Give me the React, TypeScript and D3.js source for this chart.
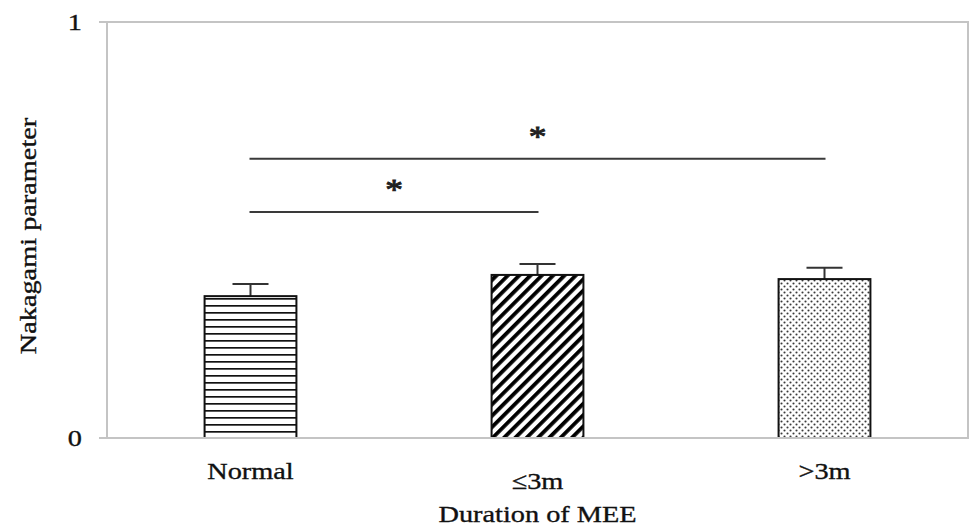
import React from "react";
import * as d3 from "d3";

const categories = ["Normal", "≤3m", ">3m"];
const means = [0.341, 0.392, 0.382];
const upperErrors = [0.029, 0.026, 0.027];
const yTicks = [0, 1];
const comparisons = [
  { from: "Normal", to: ">3m", level: 0.671, label: "*" },
  { from: "Normal", to: "≤3m", level: 0.543, label: "*" },
];
const xTitle = "Duration of MEE";
const yTitle = "Nakagami parameter";

const W = 970;
const H = 527;
const plot = { left: 107, right: 968, top: 22, bottom: 438 };
const FONT = "'Liberation Serif', 'Times New Roman', serif";
const STRETCH = 1.18;
const labelShift: Record<string, number> = { "≤3m": 10 };
const patterns = ["hstripe", "diag", "dots"];

export default function App() {
  const x = d3
    .scaleBand<string>()
    .domain(categories)
    .range([plot.left, plot.right])
    .paddingInner(0.68)
    .paddingOuter(0.34);
  const y = d3.scaleLinear().domain([0, 1]).range([plot.bottom, plot.top]);
  const cx = (c: string) => (x(c) as number) + x.bandwidth() / 2;
  const textStyle = {
    fontFamily: FONT,
    fontSize: 24,
    fill: "#111",
    stroke: "#111",
    strokeWidth: 0.35,
  } as React.CSSProperties;

  return (
    <svg
      width={W}
      height={H}
      style={{ position: "absolute", left: 0, top: 0, background: "#fff", fontFamily: FONT }}
    >
      <defs>
        <pattern id="hstripe" width="8" height="7" patternUnits="userSpaceOnUse" y={plot.bottom}>
          <rect width="8" height="7" fill="#fff" />
          <line x1="0" x2="8" y1="0.8" y2="0.8" stroke="#111" strokeWidth="1.8" />
        </pattern>
        <pattern
          id="diag"
          width="8"
          height="8"
          patternUnits="userSpaceOnUse"
          patternTransform="rotate(45)"
        >
          <rect width="8" height="8" fill="#fff" />
          <rect x="0" y="0" width="3.8" height="8" fill="#000" />
        </pattern>
        <pattern id="dots" width="6" height="6" patternUnits="userSpaceOnUse">
          <rect width="6" height="6" fill="#fff" />
          <circle cx="1.5" cy="1.5" r="1.05" fill="#3a3a3a" />
          <circle cx="4.5" cy="4.5" r="1.05" fill="#3a3a3a" />
        </pattern>
      </defs>

      {/* plot frame */}
      <rect
        x={plot.left}
        y={plot.top}
        width={plot.right - plot.left}
        height={plot.bottom - plot.top}
        fill="none"
        stroke="#c4c4c4"
        strokeWidth={2}
      />
      {/* y ticks */}
      {yTicks.map((t) => (
        <g key={t}>
          <line x1={plot.left - 8} x2={plot.left} y1={y(t)} y2={y(t)} stroke="#c4c4c4" strokeWidth={2} />
          <g transform={`translate(${82},${y(t) + 8}) scale(${STRETCH},1)`}>
            <text textAnchor="end" style={textStyle}>
              {t}
            </text>
          </g>
        </g>
      ))}

      {/* bars */}
      {categories.map((c, i) => {
        const x0 = x(c) as number;
        const top = y(means[i]);
        const capY = y(means[i] + upperErrors[i]);
        return (
          <g key={c}>
            <line x1={cx(c)} x2={cx(c)} y1={top} y2={capY} stroke="#333" strokeWidth={2} />
            <line x1={cx(c) - 18} x2={cx(c) + 18} y1={capY} y2={capY} stroke="#333" strokeWidth={2} />
            <rect
              x={x0}
              y={top}
              width={x.bandwidth()}
              height={plot.bottom - top}
              fill={`url(#${patterns[i]})`}
              stroke="#111"
              strokeWidth={2}
            />
          </g>
        );
      })}
      <line x1={plot.left - 8} x2={plot.right} y1={plot.bottom} y2={plot.bottom} stroke="#c4c4c4" strokeWidth={2} />

      {/* significance */}
      {comparisons.map((cmp, i) => {
        const x1 = cx(cmp.from);
        const x2 = cx(cmp.to);
        const ly = y(cmp.level);
        return (
          <g key={i}>
            <line x1={x1 - 1} x2={x2 + 1} y1={ly} y2={ly} stroke="#3a3a3a" strokeWidth={2} />
            <g transform={`translate(${(x1 + x2) / 2},${ly - 13}) scale(${STRETCH},1)`}>
              <text textAnchor="middle" style={{ ...textStyle, fontSize: 30, strokeWidth: 0.9, fill: "#222", stroke: "#222" }}>
                {cmp.label}
              </text>
            </g>
          </g>
        );
      })}

      {/* x labels */}
      {categories.map((c) => (
        <g key={c} transform={`translate(${cx(c)},${479 + (labelShift[c] || 0)}) scale(${STRETCH},1)`}>
          <text textAnchor="middle" style={textStyle}>
            {c}
          </text>
        </g>
      ))}
      <g transform={`translate(${(plot.left + plot.right) / 2},${522}) scale(${STRETCH},1)`}>
        <text textAnchor="middle" style={textStyle}>
          {xTitle}
        </text>
      </g>
      <g transform={`translate(${36},${(plot.top + plot.bottom) / 2 + 6}) rotate(-90) scale(${STRETCH},1)`}>
        <text textAnchor="middle" style={textStyle}>
          {yTitle}
        </text>
      </g>
    </svg>
  );
}
